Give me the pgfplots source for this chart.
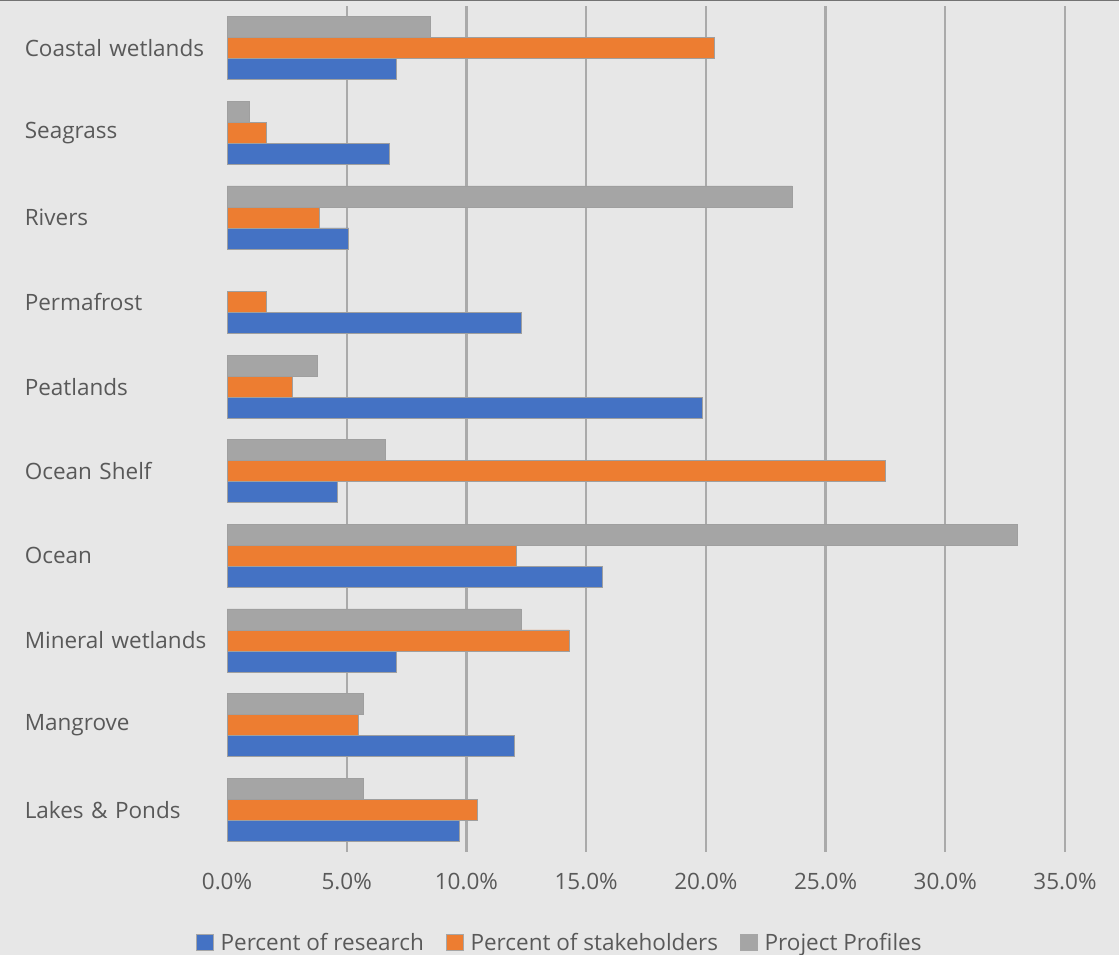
\documentclass[border=0pt]{standalone}
\usepackage{pgfplots}
\pgfplotsset{compat=1.18}
\usepackage{fontspec}
\setmainfont{Open Sans}
\definecolor{bg}{HTML}{E7E7E7}
\definecolor{cblue}{HTML}{4472C4}
\definecolor{corange}{HTML}{ED7D31}
\definecolor{cgrey}{HTML}{A5A5A5}
\definecolor{gridc}{HTML}{AAAAAA}
\definecolor{txt}{HTML}{595959}
\begin{document}
\begin{tikzpicture}[x=1pt,y=1pt]
\useasboundingbox (0,0) rectangle (1119,955);
\fill[bg] (-3,-3) rectangle (1122,958);
\draw[line width=2.5pt, color=black!55] (-3,955) -- (1122,955);
\begin{axis}[
  at={(227pt,103pt)}, anchor=south west,
  scale only axis, width=838pt, height=846pt,
  xmin=0, xmax=35, ymin=-0.5, ymax=9.5,
  xbar=0pt, bar width=21pt,
  axis line style={draw=none},
  xtick={5,10,...,35},
  extra x ticks={0}, extra x tick style={grid=none},
  ytick={0,...,9},
  yticklabels={Lakes \& Ponds, Mangrove, Mineral wetlands, Ocean, Ocean Shelf, Peatlands, Permafrost, Rivers, Seagrass, Coastal wetlands},
  xticklabel={\pgfmathprintnumber[fixed,fixed zerofill,precision=1]{\tick}\%},
  /pgf/number format/assume math mode=true,
  major tick length=0pt,
  xmajorgrids, grid style={line width=2.4pt, gridc},
  tick label style={font=\fontsize{22.5}{26}\selectfont, text=txt},
  yticklabel style={anchor=east, inner sep=0pt, text width=202pt, align=left},
  xticklabel style={anchor=north, inner sep=0pt, yshift=-21pt},
  legend style={at={(-0.037,-0.107)}, anchor=west, draw=none, fill=none,
    inner sep=0pt, outer sep=0pt,
    font=\fontsize{22.5}{26}\selectfont, text=txt, legend columns=-1,
    /tikz/every odd column/.append style={column sep=5pt},
    /tikz/every even column/.append style={column sep=20pt}},
  legend image code/.code={\draw[#1, draw=gray!70, line width=0.6pt] (0pt,-8pt) rectangle (17pt,8pt);},
  every axis plot/.append style={draw=gray!75, line width=0.7pt},
]
\addplot[fill=cblue] coordinates {(9.69,0) (12.0,1) (7.07,2) (15.68,3) (4.62,4) (19.84,5) (12.31,6) (5.08,7) (6.77,8) (7.07,9)};
\addlegendentry{Percent of research}
\addplot[fill=corange] coordinates {(10.44,0) (5.50,1) (14.29,2) (12.08,3) (27.49,4) (2.74,5) (1.66,6) (3.84,7) (1.66,8) (20.34,9)};
\addlegendentry{Percent of stakeholders}
\addplot[fill=cgrey] coordinates {(5.68,0) (5.68,1) (12.28,2) (33.03,3) (6.61,4) (3.79,5) (23.6,7) (0.95,8) (8.51,9)};
\addlegendentry{Project Profiles}
\end{axis}
\end{tikzpicture}
\end{document}
